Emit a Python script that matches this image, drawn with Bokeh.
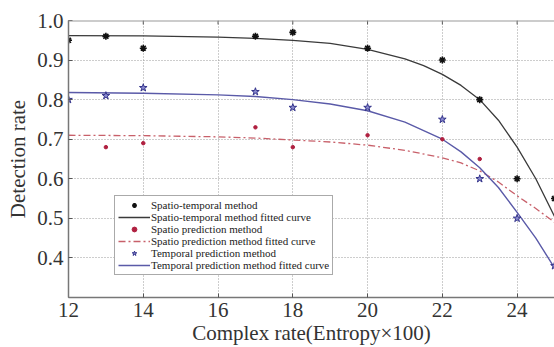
from bokeh.plotting import figure
from bokeh.models import (Range1d, FixedTicker, Legend, LegendItem, Span,
                          PrintfTickFormatter)
from bokeh.embed import file_html
from bokeh.resources import INLINE

# ---- data ----
st_x = [12, 13, 14, 17, 18, 20, 22, 23, 24, 25]
st_y = [0.95, 0.96, 0.93, 0.96, 0.97, 0.93, 0.90, 0.80, 0.60, 0.55]

sp_x = [13, 14, 17, 18, 20, 22, 23]
sp_y = [0.68, 0.69, 0.73, 0.68, 0.71, 0.70, 0.65]

tp_x = [12, 13, 14, 17, 18, 20, 22, 23, 24, 25]
tp_y = [0.80, 0.81, 0.83, 0.82, 0.78, 0.78, 0.75, 0.60, 0.50, 0.38]

st_fit_x = [12, 14, 16, 17, 18, 19, 20, 21, 21.5, 22, 22.5, 23, 23.5, 24, 24.5, 25]
st_fit_y = [0.962, 0.961, 0.958, 0.955, 0.950, 0.942, 0.927, 0.903, 0.886, 0.864,
            0.836, 0.800, 0.748, 0.680, 0.600, 0.505]

sp_fit_x = [12, 14, 16, 17, 18, 19, 20, 21, 22, 22.5, 23, 23.5, 24, 24.5, 25]
sp_fit_y = [0.710, 0.709, 0.706, 0.703, 0.698, 0.693, 0.685, 0.672, 0.653, 0.640,
            0.620, 0.592, 0.557, 0.525, 0.490]

tp_fit_x = [12, 14, 16, 17, 18, 19, 20, 21, 22, 22.5, 23, 23.5, 24, 24.5, 25]
tp_fit_y = [0.818, 0.816, 0.812, 0.808, 0.800, 0.789, 0.772, 0.743, 0.700, 0.668,
            0.628, 0.578, 0.515, 0.450, 0.375]

x_ticks = [12, 14, 16, 18, 20, 22, 24]
y_ticks = [0.4, 0.5, 0.6, 0.7, 0.8, 0.9, 1.0]

labels = ["Spatio-temporal method",
          "Spatio-temporal method fitted curve",
          "Spatio prediction method",
          "Spatio prediction method fitted curve",
          "Temporal prediction method",
          "Temporal prediction method fitted curve"]

FONT = "Liberation Serif"
Y_MIN, Y_MAX = 0.3, 1.0

p = figure(width=554, height=347, output_backend="svg", toolbar_location=None,
           x_range=Range1d(12, 25), y_range=Range1d(Y_MIN, Y_MAX),
           min_border_left=68, min_border_top=20, min_border_right=0,
           min_border_bottom=10)
p.outline_line_color = None
p.background_fill_color = "white"
p.border_fill_color = "white"

for ax in (p.xaxis[0], p.yaxis[0]):
    ax.major_label_text_font = FONT
    ax.major_label_text_font_size = "21px"
    ax.major_label_text_color = "#333333"
    ax.axis_label_text_font = FONT
    ax.axis_label_text_font_size = "21px"
    ax.axis_label_text_font_style = "normal"
    ax.axis_label_text_color = "#333333"
    ax.axis_line_color = "#777777"
    ax.axis_line_width = 1.5
    ax.major_tick_in = 4
    ax.major_tick_out = 0
    ax.major_tick_line_color = "#555555"
    ax.minor_tick_line_color = None

p.xaxis[0].ticker = FixedTicker(ticks=x_ticks)
p.yaxis[0].ticker = FixedTicker(ticks=y_ticks)
p.yaxis[0].formatter = PrintfTickFormatter(format="%.1f")
p.xaxis[0].axis_label = "Complex rate(Entropy×100)"
p.yaxis[0].axis_label = "Detection rate"
p.xaxis[0].major_label_standoff = 5
p.xaxis[0].axis_label_standoff = 1
p.yaxis[0].major_label_standoff = 5
p.yaxis[0].axis_label_standoff = 4

# top frame border with inward ticks
p.add_layout(Span(location=Y_MAX, dimension="width", line_color="#999999",
                  line_width=2))
p.segment(x0=x_ticks, y0=[Y_MAX] * len(x_ticks), x1=x_ticks,
          y1=[Y_MAX - 0.01] * len(x_ticks), line_color="#555555", line_width=1)

for g in (p.xgrid[0], p.ygrid[0]):
    g.grid_line_color = "#9a9a9a"
    g.grid_line_dash = "1 2"
    g.grid_line_width = 1
p.xgrid[0].ticker = FixedTicker(ticks=x_ticks)
p.ygrid[0].ticker = FixedTicker(ticks=y_ticks)

r_st_fit = p.line(st_fit_x, st_fit_y, line_color="#3a3a3a", line_width=1.3)
r_sp_fit = p.line(sp_fit_x, sp_fit_y, line_color="#c8606a", line_width=1.3,
                  line_dash="7 3 2 3")
r_tp_fit = p.line(tp_fit_x, tp_fit_y, line_color="#5a5aa8", line_width=1.4)

r_st = p.scatter(st_x, st_y, marker="asterisk", size=7, line_color="#111111",
                 line_width=1.6)
r_sp = p.scatter(sp_x, sp_y, marker="circle", size=3.5, fill_color="#b02040",
                 line_color="#b02040")
r_tp = p.scatter(tp_x, tp_y, marker="star", size=8, fill_color="#8a8ad0",
                 line_color="#33338a", line_width=1)

items = [LegendItem(label=labels[0], renderers=[r_st]),
         LegendItem(label=labels[1], renderers=[r_st_fit]),
         LegendItem(label=labels[2], renderers=[r_sp]),
         LegendItem(label=labels[3], renderers=[r_sp_fit]),
         LegendItem(label=labels[4], renderers=[r_tp]),
         LegendItem(label=labels[5], renderers=[r_tp_fit])]
legend = Legend(items=items, location=(46, 22), label_text_font=FONT,
                label_text_font_size="11px", label_text_color="#222222",
                label_height=12, glyph_height=12, glyph_width=32, spacing=0,
                padding=3, margin=0, label_standoff=1,
                border_line_color="#555555", border_line_width=1,
                background_fill_color="white", background_fill_alpha=1)
p.add_layout(legend, "center")

open("out.html", "w").write(file_html(p, INLINE))
